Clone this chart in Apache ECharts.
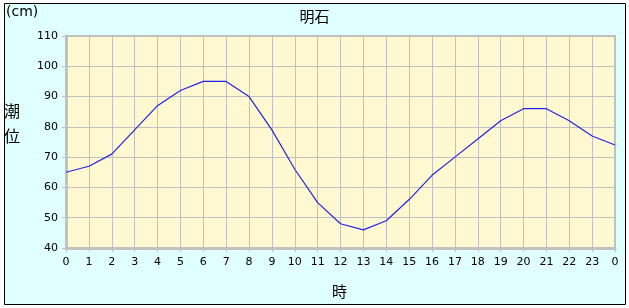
<!DOCTYPE html>
<html><head><meta charset="utf-8">
<script src="https://cdn.jsdelivr.net/npm/echarts@6/dist/echarts.min.js"></script>
<style>html,body{margin:0;padding:0;background:#fff}#c{width:629px;height:308px}</style>
</head><body><div id="c"></div>
<script>
const hours = [0,1,2,3,4,5,6,7,8,9,10,11,12,13,14,15,16,17,18,19,20,21,22,23,24];
const tide = [65,67,71,79,87,92,95,95,90,79,66,55,48,46,49,56,64,70,76,82,86,86,82,77,74];
const yTicks = [40,50,60,70,80,90,100,110];
const title = '明石';
const unitLabel = '(cm)';
const yName = '潮\n位';
const xName = '時';

const chart = echarts.init(document.getElementById('c'), null, {renderer:'canvas'});
const font = 'Verdana, "DejaVu Sans", "Noto Sans CJK JP", sans-serif';
chart.setOption({
  animation:false,
  backgroundColor:'#fff',
  graphic:[
    {type:'rect', z:-10, shape:{x:4.5,y:3.5,width:621,height:301}, style:{fill:'#e0ffff',stroke:'#000',lineWidth:1}},
    {type:'text', left:6, top:5, style:{text:unitLabel, font:'14px '+font, fill:'#000'}},
    {type:'text', left:4, top:98, style:{text:yName, font:'16px "Noto Sans CJK JP", sans-serif', fill:'#000', lineHeight:25}},
    {type:'text', left:332, top:284, style:{text:xName, font:'15px "Noto Sans CJK JP", sans-serif', fill:'#000'}}
  ],
  title:{text:title, left:'center', top:4, textStyle:{fontSize:15, fontWeight:'normal', color:'#000', fontFamily:'"Noto Sans CJK JP", sans-serif'}},
  grid:{left:66, right:14, top:36, bottom:60, show:true, backgroundColor:'#fff8d0', borderColor:'#c0c0c0', borderWidth:2},
  xAxis:{type:'value', min:0, max:24, interval:1,
    axisLine:{show:true, onZero:false, lineStyle:{color:'#c0c0c0', width:3}},
    axisTick:{show:true, length:4, lineStyle:{color:'#c0c0c0'}},
    splitLine:{show:true, lineStyle:{color:'#c0c0c0', width:1}},
    axisLabel:{formatter:v=>String(hours[v]%24), color:'#000', fontSize:11, fontFamily:font, margin:9}},
  yAxis:{type:'value', min:yTicks[0], max:yTicks[yTicks.length-1], interval:10,
    axisLine:{show:true, lineStyle:{color:'#c0c0c0', width:3}},
    axisTick:{show:true, length:4, lineStyle:{color:'#c0c0c0'}},
    splitLine:{show:true, lineStyle:{color:'#c0c0c0', width:1}},
    axisLabel:{color:'#000', fontSize:11, fontFamily:font, margin:8}},
  series:[{type:'line', data:hours.map((h,i)=>[h,tide[i]]), symbol:'none',
    lineStyle:{color:'#2222ee', width:1.2}}]
});
</script></body></html>
